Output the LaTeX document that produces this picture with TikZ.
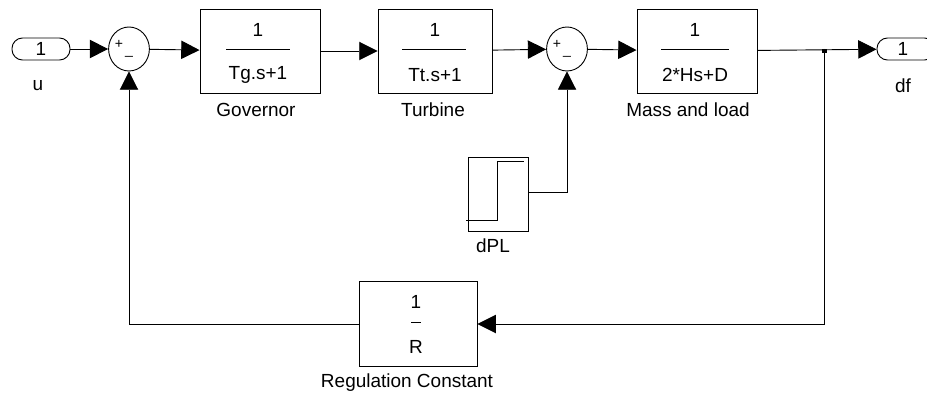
\documentclass[tikz,border=0pt]{standalone}
\usepackage{fontspec}
\setmainfont{Liberation Sans}
\usetikzlibrary{shapes.geometric, arrows.meta, positioning}

\begin{document}
\begin{tikzpicture}[
    x=0.025cm, y=-0.025cm, line width=0.65pt,
    font=\fontsize{13.5}{15}\selectfont,
    >={Triangle[length=13pt, width=13pt]},
    port/.style={draw, rectangle, rounded corners=7.5pt, minimum width=1.45cm, minimum height=0.55cm, inner sep=0pt},
    blk/.style={draw, rectangle, minimum width=3cm, minimum height=2.1cm, inner sep=0pt},
    sumjn/.style={draw, ellipse, minimum width=1.02cm, minimum height=1.1cm, inner sep=0pt},
    sgn/.style={font=\fontsize{10}{11}\selectfont, inner sep=0pt}
]
    \useasboundingbox (0,0) rectangle (927,400);

    % Input port
    \node[port] (u) at (41,49) {1};
    \node (ulbl) at (38,86) {u};

    % Summing junction 1
    \node[sumjn] (sum1) at (129,49) {};
    \node[sgn] (sum1p) at (119,44) {+};
    \node[sgn] (sum1m) at (129,56) {\_};

    % Governor
    \node[blk] (gov) at (260,51) {};
    \node (govnum) at (258,30) {1};
    \draw (226,49) -- (290,49);
    \node (govden) at (258,75) {Tg.s+1};
    \node (govlbl) at (256,110) {Governor};

    % Turbine
    \node[blk, minimum width=2.85cm] (tur) at (435,51) {};
    \node (turnum) at (435,30) {1};
    \draw (402,49) -- (466,49);
    \node (turden) at (435,75) {Tt.s+1};
    \node (turlbl) at (433,110) {Turbine};

    % Summing junction 2
    \node[sumjn] (sum2) at (567,49) {};
    \node[sgn] (sum2p) at (557,44) {+};
    \node[sgn] (sum2m) at (567,56) {\_};

    % Mass and load
    \node[blk] (mass) at (697,51) {};
    \node (massnum) at (695,30) {1};
    \draw (661,49) -- (729,49);
    \node (massden) at (695,75) {2*Hs+D};
    \node (masslbl) at (688,110) {Mass and load};

    % Output port
    \node[port] (df) at (906,49) {};
    \node (dfnum) at (903,49) {1};
    \node (dflbl) at (903,86) {df};

    % Step load dPL
    \node[draw, rectangle, minimum width=1.5cm, minimum height=1.85cm, inner sep=0pt] (dpl) at (498,194) {};
    \draw (466,220) -- (497,220) -- (497,161) -- (524,161);
    \node (dpllbl) at (493,246) {dPL};

    % Regulation constant
    \node[blk, minimum width=2.95cm, minimum height=2.12cm] (reg) at (418,324) {};
    \node (regnum) at (416,302) {1};
    \draw (411,322) -- (421,322);
    \node (regden) at (416,347) {R};
    \node (reglbl) at (407,383) {Regulation Constant};

    % Branch point
    \coordinate (br) at (824,49);
    \fill (br) ++(-2.5,0) rectangle ++(5,4);

    % Connections
    \draw[->] (u) -- (sum1);
    \draw[->] (sum1) -- (gov);
    \draw[->] (gov) -- (tur);
    \draw[->] (tur) -- (sum2);
    \draw[->] (sum2) -- (mass);
    \draw[->] (mass) -- (df);
    \draw[->] (dpl.east |- 0,192) -| (sum2);
    \draw[->] (br) |- (reg);
    \draw[->] (reg) -| (sum1);
\end{tikzpicture}
\end{document}
